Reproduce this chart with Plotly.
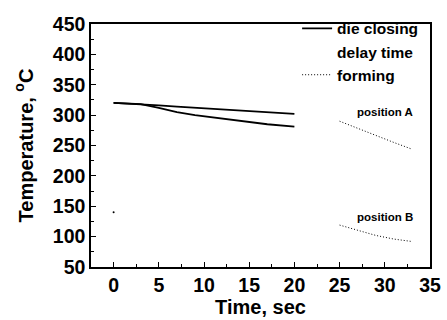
import plotly.graph_objects as go

# die closing (solid), two positions
dc_time = [0, 3, 5, 7, 9, 11, 13, 15, 17, 20]
dc_posA = [320, 318, 316, 314, 312, 310, 308, 306, 304, 302]
dc_posB = [320, 318, 312, 305, 300, 296, 292, 288, 285, 281]
# delay time (not drawn visibly)
delay_time = [20, 25]
delay_A = [302, 290]
# forming (dotted)
fm_time = [25, 27, 29, 31, 33]
fm_posA = [290, 278, 266, 255, 244]
fm_posB = [119, 110, 102, 96, 92]
stray_x = [0]
stray_y = [140]

font_fam = "Liberation Sans, Arial, sans-serif"

fig = go.Figure()
fig.add_trace(go.Scatter(x=dc_time, y=dc_posA, mode="lines", name="die closing",
                         line=dict(color="black", width=1.8)))
fig.add_trace(go.Scatter(x=dc_time, y=dc_posB, mode="lines", showlegend=False,
                         line=dict(color="black", width=1.8)))
fig.add_trace(go.Scatter(x=delay_time, y=delay_A, mode="lines", name="delay time",
                         line=dict(color="rgba(255,255,255,0)", width=1)))
fig.add_trace(go.Scatter(x=fm_time, y=fm_posA, mode="lines", name="forming",
                         line=dict(color="black", width=1, dash="1px,2px")))
fig.add_trace(go.Scatter(x=fm_time, y=fm_posB, mode="lines", showlegend=False,
                         line=dict(color="black", width=1, dash="1px,2px")))
fig.add_trace(go.Scatter(x=stray_x, y=stray_y, mode="markers", showlegend=False,
                         marker=dict(color="black", size=2)))

fig.add_annotation(x=30.0, y=305, text="position A", showarrow=False,
                   font=dict(family=font_fam, size=11.5, color="black", weight="bold"))
fig.add_annotation(x=30.0, y=132, text="position B", showarrow=False,
                   font=dict(family=font_fam, size=11.5, color="black", weight="bold"))

axis_common = dict(showline=True, linecolor="black", linewidth=1.5, mirror=True,
                   ticks="inside", ticklen=5, tickcolor="black", tickwidth=1.2,
                   showgrid=False, zeroline=False, automargin=False,
                   tickfont=dict(family=font_fam, size=19.5, color="black", weight="bold"))

fig.update_xaxes(range=[-2.5, 35], tickvals=[0, 5, 10, 15, 20, 25, 30, 35],
                 minor=dict(ticks="inside", ticklen=3, dtick=2.5, tick0=0, tickcolor="black"),
                 title=dict(text="Time, sec", standoff=5,
                            font=dict(family=font_fam, size=20, color="black", weight="bold")),
                 **axis_common)
fig.update_yaxes(range=[50, 450], tickvals=[50, 100, 150, 200, 250, 300, 350, 400, 450],
                 minor=dict(ticks="inside", ticklen=3, dtick=25, tick0=50, tickcolor="black"),
                 title=dict(text="Temperature, <sup>o</sup>C", standoff=14,
                            font=dict(family=font_fam, size=20, color="black", weight="bold")),
                 **axis_common)

fig.update_layout(
    width=447, height=320,
    margin=dict(l=91, r=17, t=17, b=53),
    plot_bgcolor="white", paper_bgcolor="white",
    legend=dict(x=0.608, y=1.05, xanchor="left", yanchor="top",
                bgcolor="rgba(0,0,0,0)", tracegroupgap=0,
                font=dict(family=font_fam, size=15.5, color="black", weight="bold")),
)

fig.write_html("out.html")
